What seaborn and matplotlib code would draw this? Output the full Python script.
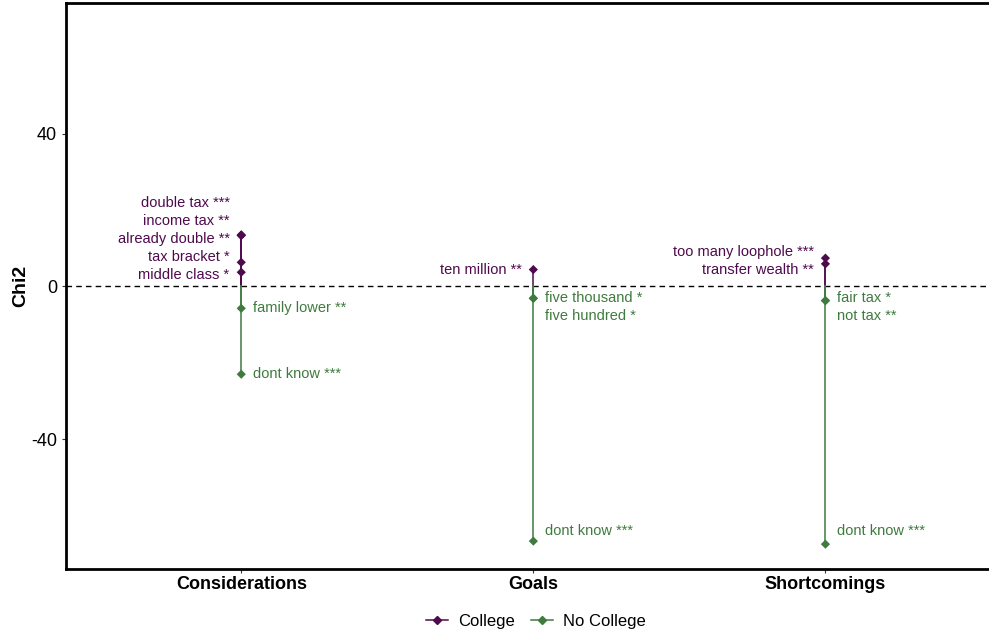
import numpy as np
import pandas as pd
import matplotlib
matplotlib.use("Agg")
import matplotlib.pyplot as plt
from matplotlib.lines import Line2D
import seaborn as sns

# chart values
categories = ["Considerations", "Goals", "Shortcomings"]

college_cat = ["Considerations", "Considerations", "Considerations", "Considerations", "Considerations",
               "Goals", "Shortcomings", "Shortcomings"]
college_word = ["double tax ***", "income tax **", "already double **", "tax bracket *", "middle class *",
                "ten million **", "too many loophole ***", "transfer wealth **"]
college_chi2 = [13.5, 13.4, 13.3, 6.3, 3.7, 4.4, 7.4, 5.9]

nocollege_cat = ["Considerations", "Considerations", "Goals", "Goals", "Goals",
                 "Shortcomings", "Shortcomings", "Shortcomings"]
nocollege_word = ["family lower **", "dont know ***", "five thousand *", "five hundred *", "dont know ***",
                  "fair tax *", "not tax **", "dont know ***"]
nocollege_chi2 = [-5.75, -23.0, -3.1, -3.15, -66.7, -3.7, -3.75, -67.5]

purple = "#4f0a4d"
green = "#3f7b3f"

df = pd.concat([
    pd.DataFrame({"cat": college_cat, "word": college_word, "chi2": college_chi2, "group": "College"}),
    pd.DataFrame({"cat": nocollege_cat, "word": nocollege_word, "chi2": nocollege_chi2, "group": "No College"}),
], ignore_index=True)
df["x"] = df["cat"].map({c: i + 1 for i, c in enumerate(categories)})


def repel(vals, gap, lo, hi):
    # push overlapping labels apart, keep them inside [lo, hi]
    order = np.argsort(vals)
    y = np.array(vals, dtype=float)[order]
    for _ in range(300):
        for i in range(len(y) - 1):
            d = y[i + 1] - y[i]
            if d < gap:
                y[i] -= (gap - d) / 2
                y[i + 1] += (gap - d) / 2
        y = np.clip(y, lo, hi)
    out = np.empty_like(y)
    out[order] = y
    return out


plt.rcParams["font.family"] = ["Liberation Sans", "DejaVu Sans"]

fig = plt.figure(figsize=(9.89, 6.34), dpi=100)
ax = fig.add_axes([66 / 989, 65 / 634, 1 - 66 / 989, (569 - 3) / 634])

ax.axhline(0, color="black", lw=1, ls=(0, (4, 3)), zorder=1)

# lollipop stems from 0 to each value
for _, r in df.iterrows():
    ax.plot([r["x"], r["x"]], [0, r["chi2"]],
            color=purple if r["group"] == "College" else green, lw=1.1, zorder=2)

sns.scatterplot(data=df, x="x", y="chi2", hue="group", palette={"College": purple, "No College": green},
                marker="D", s=22, linewidth=0, ax=ax, legend=False, zorder=3)

gap = 4.7
for (cat, grp), sub in df.groupby(["cat", "group"]):
    if grp == "College":
        ys = repel(sub["chi2"].values, gap, 3.1, 64)
        for (_, r), y in zip(sub.iterrows(), ys):
            ax.text(r["x"] - 0.04, y, r["word"], ha="right", va="center", fontsize=10.5, color=purple)
    else:
        ys = repel(sub["chi2"].values, gap, -64, -3.1)
        for (_, r), y in zip(sub.iterrows(), ys):
            ax.text(r["x"] + 0.04, y, r["word"], ha="left", va="center", fontsize=10.5, color=green)

ax.set_xlim(0.4, 3.56)
ax.set_ylim(-74, 74.2)
ax.set_xticks([1, 2, 3])
ax.set_xticklabels(categories, fontsize=13, fontweight="bold")
ax.set_yticks([-40, 0, 40])
ax.set_yticklabels(["-40", "0", "40"], fontsize=13)
ax.set_xlabel("")
ax.set_ylabel("Chi2", fontsize=14, fontweight="bold", labelpad=1)
ax.tick_params(length=3, width=0.8, color="#333333")
ax.tick_params(axis="x", pad=2)

for s in ["left", "bottom", "top"]:
    ax.spines[s].set_linewidth(2)
ax.spines["right"].set_visible(False)

handles = [Line2D([], [], color=purple, marker="D", markersize=4, lw=1.1),
           Line2D([], [], color=green, marker="D", markersize=4, lw=1.1)]
fig.legend(handles, ["College", "No College"], loc="center", bbox_to_anchor=(0.542, 0.02),
           ncol=2, frameon=False, fontsize=12, handlelength=1.3, columnspacing=1.0, handletextpad=0.6)

fig.savefig("out.png", dpi=100)
